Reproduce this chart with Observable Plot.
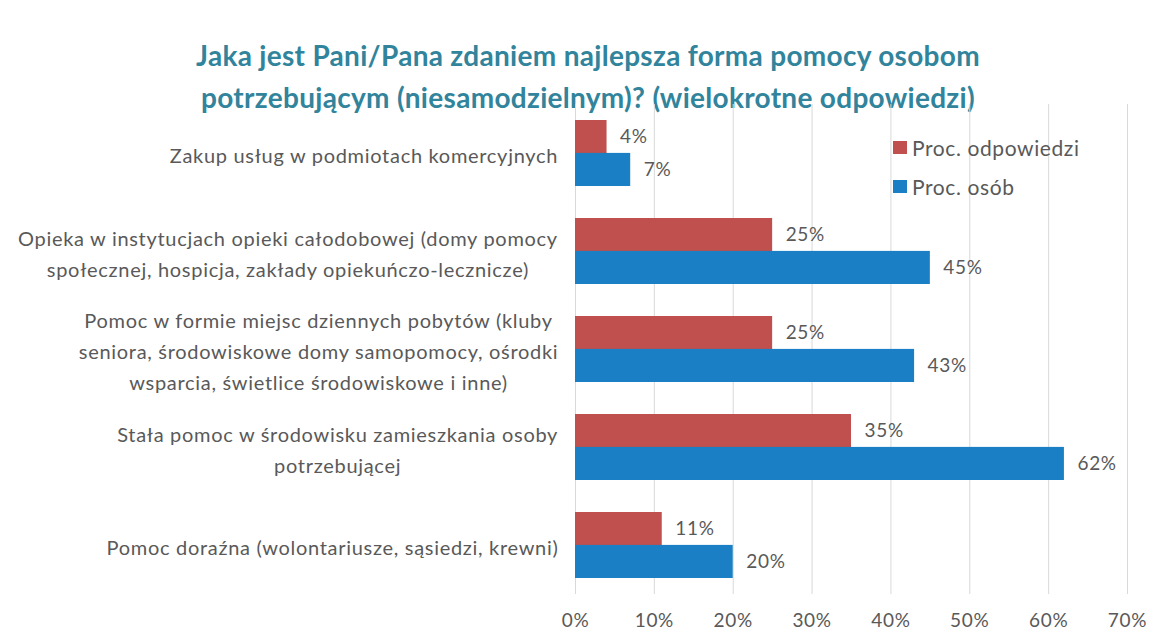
<!DOCTYPE html>
<html>
<head>
<meta charset="utf-8">
<script src="https://cdn.jsdelivr.net/npm/d3@7"></script>
<script src="https://cdn.jsdelivr.net/npm/@observablehq/plot@0.6"></script>
<style>
  html, body { margin: 0; padding: 0; background: #fff; }
  #wrap { position: relative; width: 1160px; height: 635px; overflow: hidden; font-family: Lato, "Open Sans", sans-serif; }
  #title { height: 100px; box-sizing: border-box; padding-top: 34px; text-align: center; padding-left: 16px;
           font-weight: bold; font-size: 28px; letter-spacing: 0.3px; line-height: 42px; color: #31849b; }
  #legend { position: absolute; left: 893px; top: 128px; font-size: 21px; letter-spacing: 0.6px; color: #595959; }
  #legend div { display: flex; align-items: center; height: 39px; }
  #legend span.sw { display: inline-block; width: 14px; height: 13px; margin-right: 5px; }
</style>
</head>
<body>
<div id="wrap">
  <div id="title">Jaka jest Pani/Pana zdaniem najlepsza forma pomocy osobom<br>potrzebującym (niesamodzielnym)? (wielokrotne odpowiedzi)</div>
  <div id="chart"></div>
  <div id="legend"></div>
</div>
<script>
const categories = [
  "Zakup usług w podmiotach komercyjnych",
  "Opieka w instytucjach opieki całodobowej (domy pomocy\nspołecznej, hospicja, zakłady opiekuńczo-lecznicze)",
  "Pomoc w formie miejsc dziennych pobytów (kluby\nseniora, środowiskowe domy samopomocy, ośrodki\nwsparcia, świetlice środowiskowe i inne)",
  "Stała pomoc w środowisku zamieszkania osoby\npotrzebującej",
  "Pomoc doraźna (wolontariusze, sąsiedzi, krewni)"
];
const seriesNames = ["Proc. odpowiedzi", "Proc. osób"];
const procOdpowiedzi = [4, 25, 25, 35, 11];
const procOsob = [7, 45, 43, 62, 20];
const xTicks = [0, 10, 20, 30, 40, 50, 60, 70];
const seriesColors = ["#c0504d", "#1a7fc4"];

const textColor = "#595959";
const letterSpacing = 0.7;
const canvas = document.createElement("canvas");
const ctx = canvas.getContext("2d");
ctx.font = "20px Lato";
const lineWidth = (l) => ctx.measureText(l).width + l.length * letterSpacing;
const blockWidth = (s) => Math.max(...s.split("\n").map(lineWidth));

const odp = categories.map((c, i) => ({category: c, value: procOdpowiedzi[i]}));
const os = categories.map((c, i) => ({category: c, value: procOsob[i]}));

const halfBand = 32.9;

const labelMarks = categories.map(c => Plot.text([c], {
  y: d => d,
  text: d => d,
  frameAnchor: "left",
  textAnchor: "middle",
  lineAnchor: "middle",
  lineHeight: 1.55,
  dx: -(17 + blockWidth(c) / 2),
  fill: textColor,
  fontSize: 20
}));

const chart = Plot.plot({
  width: 1160,
  height: 535,
  marginLeft: 575,
  marginRight: 33,
  marginTop: 4,
  marginBottom: 41,
  style: {fontFamily: "Lato, 'Open Sans', sans-serif", background: "#fff", letterSpacing: letterSpacing + "px"},
  x: {domain: [0, 70]},
  y: {domain: categories, paddingInner: 0.33, paddingOuter: 0.165, axis: null},
  marks: [
    Plot.ruleX(xTicks, {stroke: "#d9d9d9", strokeWidth: 1}),
    Plot.axisX(xTicks, {tickSize: 0, tickPadding: 19, tickFormat: d => d + "%", fontSize: 19, fill: textColor, label: null}),
    Plot.barX(odp, {x: "value", y: "category", fill: seriesColors[0], insetBottom: halfBand}),
    Plot.barX(os, {x: "value", y: "category", fill: seriesColors[1], insetTop: halfBand}),
    Plot.text(odp, {x: "value", y: "category", text: d => d.value + "%", dy: -halfBand / 2, dx: 13, textAnchor: "start", fill: textColor, fontSize: 19}),
    Plot.text(os, {x: "value", y: "category", text: d => d.value + "%", dy: halfBand / 2, dx: 13, textAnchor: "start", fill: textColor, fontSize: 19}),
    ...labelMarks
  ]
});
document.getElementById("chart").appendChild(chart);

const legend = document.getElementById("legend");
seriesNames.forEach((s, i) => {
  const row = document.createElement("div");
  const sw = document.createElement("span");
  sw.className = "sw";
  sw.style.background = seriesColors[i];
  row.appendChild(sw);
  row.appendChild(document.createTextNode(s));
  legend.appendChild(row);
});
</script>
</body>
</html>
